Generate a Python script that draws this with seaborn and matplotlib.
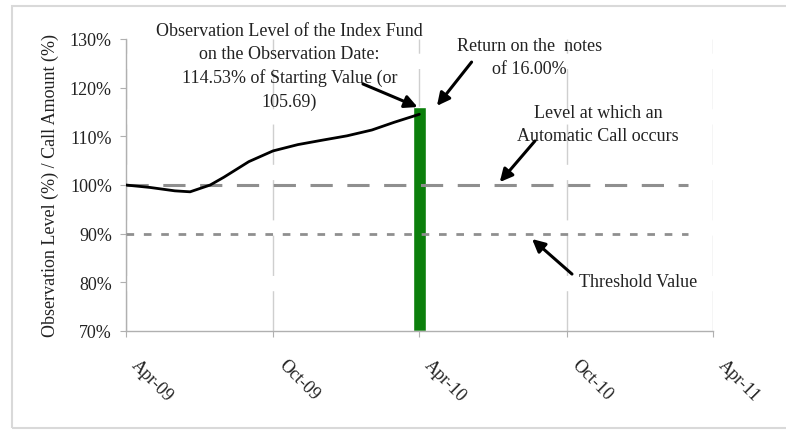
import pandas as pd
import matplotlib
matplotlib.use('Agg')
import matplotlib.pyplot as plt
import matplotlib.dates as mdates
import matplotlib.transforms as mtransforms
from matplotlib.patches import Rectangle
import seaborn as sns

# Index level path (% of starting value)
dates = ['2009-04-01', '2009-05-01', '2009-06-01', '2009-06-20', '2009-07-15',
         '2009-08-01', '2009-09-01', '2009-10-01', '2009-11-01', '2009-12-01',
         '2010-01-01', '2010-02-01', '2010-03-01', '2010-04-01']
levels = [100.0, 99.5, 98.8, 98.6, 100.0, 101.6, 104.8, 107.0, 108.3, 109.2,
          110.1, 111.3, 112.9, 114.53]

# Call amount bar on the observation date
bar_date = '2010-04-01'
bar_value = 116.0

# Reference levels
call_level = 100
threshold_level = 90
ref_start = '2009-04-01'
ref_end = '2011-03-01'

yticks = [70, 80, 90, 100, 110, 120, 130]

df = pd.DataFrame({'date': pd.to_datetime(dates), 'level': levels})

sns.set_style('white')
plt.rcParams['font.family'] = ['Liberation Serif', 'DejaVu Serif']
plt.rcParams['lines.scale_dashes'] = False

fig = plt.figure(figsize=(7.86, 4.31), dpi=100)
ax = fig.add_axes([0.160, 0.2297, 0.747, 0.6775])

# outer chart frame
fig.patches.append(Rectangle((12 / 786, 2 / 431), 1.0, 422 / 431, transform=fig.transFigure,
                             fill=False, edgecolor='#d9d9d9', linewidth=1.5))

ax.bar(pd.to_datetime(bar_date), bar_value - 70, bottom=70, width=16,
       color='#0b7f0b', zorder=2)

ax.hlines(call_level, pd.to_datetime(ref_start), pd.to_datetime(ref_end),
          colors='#8f8f8f', linewidth=2.2, linestyles=(0, (16, 10.5)), zorder=3)
ax.hlines(threshold_level, pd.to_datetime(ref_start), pd.to_datetime(ref_end),
          colors='#8f8f8f', linewidth=2.0, linestyles=(0, (5.5, 7)), zorder=3)

sns.lineplot(data=df, x='date', y='level', color='black', linewidth=2.0, ax=ax, zorder=4)

ax.set_xlim(pd.to_datetime('2009-04-01'), pd.to_datetime('2011-04-01'))
ax.set_ylim(70, 130)
ax.set_yticks(yticks)
ax.set_yticklabels([f'{t}%' for t in yticks])
ax.xaxis.set_major_locator(mdates.MonthLocator(bymonth=[4, 10]))
ax.xaxis.set_major_formatter(mdates.DateFormatter('%b-%y'))

ax.grid(axis='x', color='#cfcfcf', linewidth=1.0, linestyle=(0, (29, 11)))
ax.grid(axis='y', visible=False)
for s in ['top', 'right']:
    ax.spines[s].set_visible(False)
for s in ['left', 'bottom']:
    ax.spines[s].set_color('#b0b0b0')
    ax.spines[s].set_linewidth(1.0)
ax.tick_params(axis='both', which='major', length=4, color='#b0b0b0', labelsize=13,
               labelcolor='#222222', direction='out', bottom=True, left=True)
ax.tick_params(axis='y', pad=6)
ax.tick_params(axis='x', pad=8)

# rotated date labels, nudged right/down like the original
shift = mtransforms.ScaledTranslation(14 / 100, -8 / 100, fig.dpi_scale_trans)
for lab in ax.get_xticklabels():
    lab.set_rotation(-45)
    lab.set_ha('left')
    lab.set_va('top')
    lab.set_rotation_mode('anchor')
    lab.set_transform(lab.get_transform() + shift)

ax.set_xlabel('')
ax.set_ylabel('Observation Level (%) / Call Amount (%)', fontsize=13, color='#222222', labelpad=8)

txt = dict(fontsize=13, color='#222222', ha='center', va='center', transform=ax.transAxes)
ax.text(0.279, 0.908, 'Observation Level of the Index Fund\non the Observation Date:\n'
        '114.53% of Starting Value (or\n105.69)', linespacing=1.45, **txt)
ax.text(0.688, 0.938, 'Return on the  notes\nof 16.00%', linespacing=1.45, **txt)
ax.text(0.804, 0.709, 'Level at which an\nAutomatic Call occurs', linespacing=1.45, **txt)
ax.text(0.872, 0.171, 'Threshold Value', **txt)

arrow = dict(arrowstyle='-|>', color='black', lw=2.2, mutation_scale=19, shrinkA=0, shrinkB=0)
for tail, tip in [((0.404, 0.846), (0.497, 0.767)),
                  ((0.589, 0.921), (0.530, 0.771)),
                  ((0.697, 0.651), (0.637, 0.510)),
                  ((0.760, 0.195), (0.692, 0.315))]:
    ax.annotate('', xy=tip, xytext=tail, xycoords='axes fraction',
                textcoords='axes fraction', arrowprops=arrow, annotation_clip=False)

fig.savefig('out.png', dpi=100)
